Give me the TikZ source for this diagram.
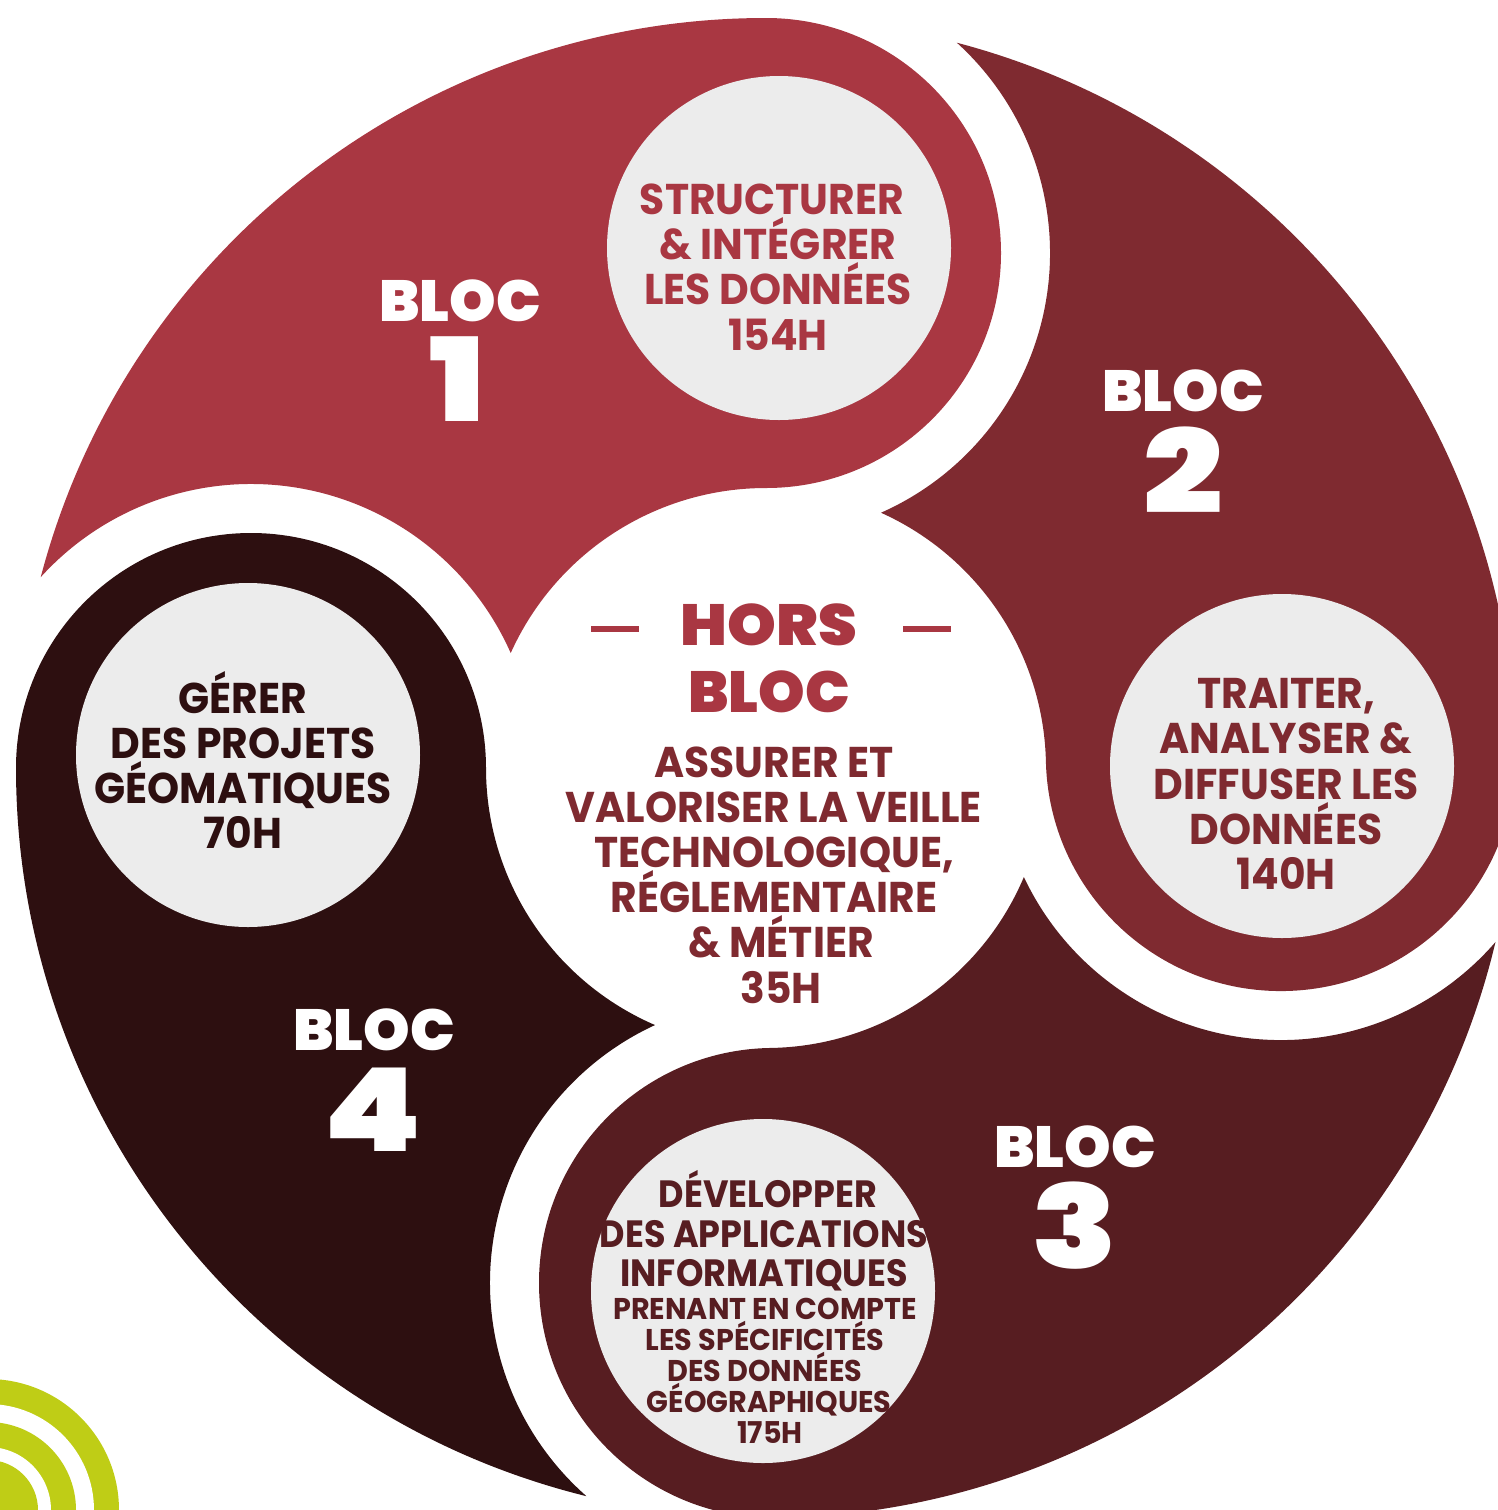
\documentclass[tikz,border=0pt]{standalone}
\usepackage{fontspec}
\setmainfont{Poppins}
\newfontfamily\blackfont{Poppins Black}[FakeStretch=1.02]
\newfontfamily\horsfont{Poppins Black}[FakeStretch=1.07]
\newfontfamily\numfont{Poppins Black}[FakeStretch=1.21]
\newfontfamily\boldfont{Poppins Bold}[FakeStretch=0.95]
\newfontfamily\midfont{Poppins Bold}[FakeStretch=0.92]
\newfontfamily\tinyfont{Poppins Bold}[FakeStretch=0.955]
\setlength\lineskiplimit{-30pt}
\definecolor{bloci}{HTML}{A93742}
\definecolor{blocii}{HTML}{7F2A30}
\definecolor{blociii}{HTML}{571D21}
\definecolor{blociv}{HTML}{2D0F10}
\definecolor{disc}{HTML}{ECECEC}
\definecolor{lime}{HTML}{BFCD16}
\tikzset{
  x=0.5pt,y=0.5pt,
  wedge/.style={fill=#1,draw=none},
  disque/.style={fill=disc,draw=none,circle,minimum size=172pt,inner sep=0pt},
  body/.style={inner sep=0pt,align=center,text=#1,font=\boldfont\fontsize{21.5}{22.6}\selectfont},
  midbody/.style={inner sep=0pt,align=center,text=#1,font=\midfont\fontsize{19}{19.7}\selectfont},
  tinybody/.style={inner sep=0pt,align=center,text=#1,font=\tinyfont\fontsize{15}{15.5}\selectfont},
  bloclabel/.style={inner sep=0pt,anchor=base,text=#1,font=\blackfont\fontsize{29}{30}\selectfont},
  horslabel/.style={inner sep=0pt,anchor=base,text=bloci,font=\horsfont\fontsize{29}{30}\selectfont},
  bignum/.style={inner sep=0pt,anchor=base,text=white,font=\numfont\fontsize{58}{60}\selectfont},
  tiret/.style={draw=bloci,line width=3pt},
}
\begin{document}
\begin{tikzpicture}
\useasboundingbox (0,-1510) rectangle (1498,0);
\clip (0,-1510) rectangle (1498,0);
\coordinate (O) at (766,-768);
% green rings
\fill[lime] (-12,-1510) circle[radius=131];
\fill[white] (-12,-1510) circle[radius=106];
\fill[lime] (-12,-1510) circle[radius=88];
\fill[white] (-12,-1510) circle[radius=63];
\fill[lime] (-12,-1510) circle[radius=50];
% bloc 1
\fill[wedge=bloci] ([shift={(O)}]165.26:750) arc[start angle=165.26,end angle=90,radius=750]
  arc[start angle=90,end angle=-90,radius=235]
  arc[start angle=90,end angle=155.75,radius=280]
  arc[start angle=23.88,end angle=137.77,radius=284] -- cycle;
% bloc 2
\fill[wedge=blocii] ([shift={(O)}]75.26:750) arc[start angle=75.26,end angle=1.33,radius=750]
  arc[start angle=1.33,end angle=-178.67,radius=235]
  arc[start angle=1.33,end angle=65.75,radius=280]
  arc[start angle=-66.12,end angle=47.77,radius=284] -- cycle;
% bloc 3
\fill[wedge=blociii] ([shift={(O)}]-13.41:750) arc[start angle=-13.41,end angle=-89.11,radius=750]
  arc[start angle=-89.11,end angle=-269.11,radius=235]
  arc[start angle=-89.11,end angle=-22.92,radius=280]
  arc[start angle=205.21,end angle=319.1,radius=284] -- cycle;
% bloc 4
\fill[wedge=blociv] ([shift={(O)}]-103.85:750) arc[start angle=-103.85,end angle=-180,radius=750]
  arc[start angle=180,end angle=0,radius=235]
  arc[start angle=180,end angle=246.64,radius=280]
  arc[start angle=114.77,end angle=228.66,radius=284] -- cycle;
% grey discs
\node[disque] (da) at (779,-248) {};
\node[disque] (db) at (1282,-766) {};
\node[disque] (dc) at (763,-1291) {};
\node[disque] (dd) at (248,-755) {};
% disc texts
\node[body=bloci] (ta) at (778,-267) {STRUCTURER\hspace*{6pt}\\\& INTÉGRER\hspace*{7pt}\\LES DONNÉES\\154H};
\node[body=blocii] (tb) at (1286,-784) {TRAITER,\\ANALYSER \&\\DIFFUSER LES\\DONNÉES\\140H};
\node[body=blociv] (td) at (243,-760) {GÉRER\\DES PROJETS\\GÉOMATIQUES\\70H};
\node[midbody=blociii] (tca) at (764,-1231) {\hspace*{4pt}DÉVELOPPER\\DES APPLICATIONS\\INFORMATIQUES};
\node[tinybody=blociii] (tcb) at (765,-1371) {PRENANT EN COMPTE\\LES SPÉCIFICITÉS\\DES DONNÉES\\\hspace*{4pt}GÉOGRAPHIQUES\\\hspace*{5pt}175H};
% bloc labels
\node[bloclabel=white] (la) at (460,-321) {BLOC};
\node[bignum] (na) at (457,-421) {1};
\node[bloclabel=white] (lb) at (1183,-411) {BLOC};
\node[bignum] (nb) at (1183,-513) {2};
\node[bloclabel=white] (lc) at (1075,-1167) {BLOC};
\node[bignum] (nc) at (1075,-1268) {3};
\node[bloclabel=white] (ld) at (374,-1050) {BLOC};
\node[bignum] (nd) at (373,-1151) {4};
% hors bloc
\node[horslabel] (ha) at (769,-645) {HORS};
\node[bloclabel=bloci] (hb) at (769,-712) {BLOC};
\coordinate (tal) at (591,-629);
\coordinate (tar) at (639,-629);
\coordinate (tbl) at (903,-629);
\coordinate (tbr) at (951,-629);
\draw[tiret] (tal) -- (tar);
\draw[tiret] (tbl) -- (tbr);
\node[body=blocii] (hc) at (774,-875) {ASSURER ET\\VALORISER LA VEILLE\\TECHNOLOGIQUE,\\RÉGLEMENTAIRE\\\hspace*{7pt}\& MÉTIER\\\hspace*{7pt}35H};
\end{tikzpicture}
\end{document}
